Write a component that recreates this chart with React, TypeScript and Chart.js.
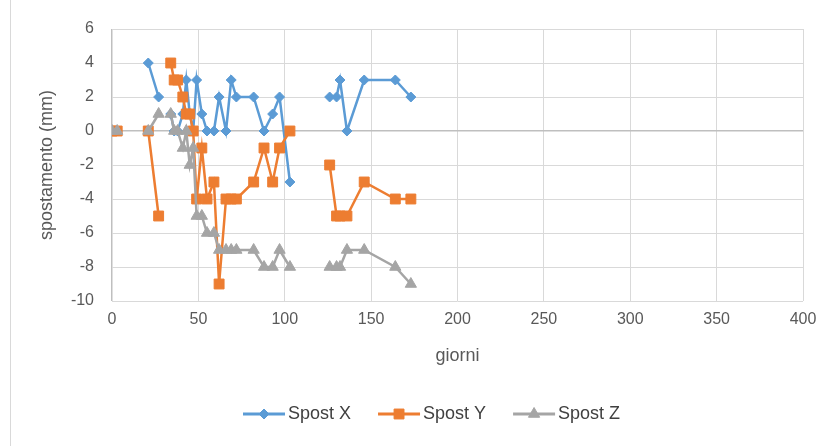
import React, { useEffect, useRef } from "react";
import { Chart, registerables } from "chart.js";

Chart.register(...registerables);

// days (null readings mark breaks in the measurement series)
const days = [0, 3, 12, 21, 27, 30, 34, 36, 38, 41, 43, 45, 47, 49, 52, 55, 59, 62, 66, 69, 72, 82, 88, 93, 97, 103, 115, 126, 130, 132, 136, 146, 164, 173];
const spostX = [0, 0, null, 4, 2, null, 1, 0, 0, 1, 3, 1, 0, 3, 1, 0, 0, 2, 0, 3, 2, 2, 0, 1, 2, -3, null, 2, 2, 3, 0, 3, 3, 2];
const spostY = [0, 0, null, 0, -5, null, 4, 3, 3, 2, 1, 1, 0, -4, -1, -4, -3, -9, -4, -4, -4, -3, -1, -3, -1, 0, null, -2, -5, -5, -5, -3, -4, -4];
const spostZ = [0, 0, null, 0, 1, null, 1, 0, 0, -1, 0, -2, -1, -5, -5, -6, -6, -7, -7, -7, -7, -7, -8, -8, -7, -8, null, -8, -8, -8, -7, -7, -8, -9];
const seriesNames = ["Spost X", "Spost Y", "Spost Z"];
const xTitle = "giorni";
const yTitle = "spostamento (mm)";

const FONT = "'Liberation Sans', Arial, sans-serif";
const colors = ["#5B9BD5", "#ED7D31", "#A5A5A5"];
const styles = ["rectRot", "rect", "triangle"];
const radii = [5, 7, 6.5];

const toPoints = (vals: (number | null)[]) => days.map((d, i) => ({ x: d, y: vals[i] }));

function drawMarker(ctx: CanvasRenderingContext2D, style: string, x: number, y: number, r: number) {
  ctx.beginPath();
  if (style === "rectRot") {
    ctx.moveTo(x - r, y);
    ctx.lineTo(x, y - r);
    ctx.lineTo(x + r, y);
    ctx.lineTo(x, y + r);
  } else if (style === "rect") {
    const s = Math.SQRT1_2 * r;
    ctx.rect(x - s, y - s, 2 * s, 2 * s);
  } else {
    for (let k = 0; k < 3; k++) {
      const a = (k * 2 * Math.PI) / 3;
      const px = x + Math.sin(a) * r;
      const py = y - Math.cos(a) * r;
      if (k === 0) ctx.moveTo(px, py);
      else ctx.lineTo(px, py);
    }
  }
  ctx.closePath();
  ctx.fill();
  ctx.stroke();
}

const legendPlugin = {
  id: "customLegend",
  afterDraw(chart: any) {
    const ctx = chart.ctx;
    ctx.save();
    // chart border (left edge)
    ctx.strokeStyle = "#D9D9D9";
    ctx.lineWidth = 1;
    ctx.beginPath();
    ctx.moveTo(10.5, 0);
    ctx.lineTo(10.5, 446);
    ctx.stroke();

    ctx.font = `18px ${FONT}`;
    ctx.textBaseline = "middle";
    let x = 243;
    const y = 414;
    chart.data.datasets.forEach((ds: any, i: number) => {
      ctx.strokeStyle = colors[i];
      ctx.lineWidth = 3;
      ctx.beginPath();
      ctx.moveTo(x, y);
      ctx.lineTo(x + 42, y);
      ctx.stroke();
      ctx.fillStyle = colors[i];
      ctx.strokeStyle = colors[i];
      ctx.lineWidth = 1;
      drawMarker(ctx, styles[i], x + 21, y, radii[i]);
      ctx.fillStyle = "#404040";
      ctx.fillText(ds.label, x + 45, y);
      const w = ctx.measureText(ds.label).width;
      x += 45 + w + 27;
    });
    ctx.restore();
  },
};

export default function App() {
  const ref = useRef<HTMLCanvasElement | null>(null);
  useEffect(() => {
    document.body.style.margin = "0";
    const canvas = ref.current!;
    const seriesVals = [spostX, spostY, spostZ];
    const chart = new Chart(canvas, {
      type: "scatter",
      data: {
        datasets: seriesVals.map((vals, i) => ({
          label: seriesNames[i],
          data: toPoints(vals),
          showLine: true,
          spanGaps: false,
          borderColor: colors[i],
          backgroundColor: colors[i],
          borderWidth: 2.5,
          pointStyle: styles[i] as any,
          pointRadius: radii[i],
          pointBorderWidth: 1,
          pointBorderColor: colors[i],
          pointBackgroundColor: colors[i],
          order: 3 - i,
        })),
      },
      options: {
        animation: false,
        responsive: false,
        maintainAspectRatio: false,
        layout: { padding: { top: 29, right: 30, bottom: 79, left: 0 } },
        plugins: {
          legend: { display: false },
          tooltip: { enabled: false },
        },
        scales: {
          x: {
            type: "linear",
            min: 0,
            max: 400,
            ticks: { stepSize: 50, color: "#595959", font: { family: FONT, size: 16 }, padding: 9 },
            grid: {
              color: (c: any) => (c.tick && c.tick.value === 0 ? "#BFBFBF" : "#D9D9D9"),
              lineWidth: (c: any) => (c.tick && c.tick.value === 0 ? 1.5 : 1),
              drawTicks: false,
            },
            border: { display: false },
            title: { display: true, text: xTitle, color: "#595959", font: { family: FONT, size: 18 }, padding: 0 },
            afterFit: (s: any) => { s.height = 66; },
          },
          y: {
            min: -10,
            max: 6,
            ticks: { stepSize: 2, color: "#595959", font: { family: FONT, size: 16 }, padding: 18 },
            grid: {
              color: (c: any) => (c.tick && c.tick.value === 0 ? "#BFBFBF" : "#D9D9D9"),
              lineWidth: (c: any) => (c.tick && c.tick.value === 0 ? 1.5 : 1),
              drawTicks: false,
            },
            border: { display: false },
            title: { display: true, text: yTitle, color: "#595959", font: { family: FONT, size: 18 }, padding: { top: 36, bottom: 0 } },
            afterFit: (s: any) => { s.width = 112; },
          },
        },
      },
      plugins: [legendPlugin],
    });
    return () => chart.destroy();
  }, []);
  return (
    <div style={{ width: 833, height: 446 }}>
      <canvas ref={ref} width={833} height={446} style={{ display: "block", width: 833, height: 446 }} />
    </div>
  );
}
